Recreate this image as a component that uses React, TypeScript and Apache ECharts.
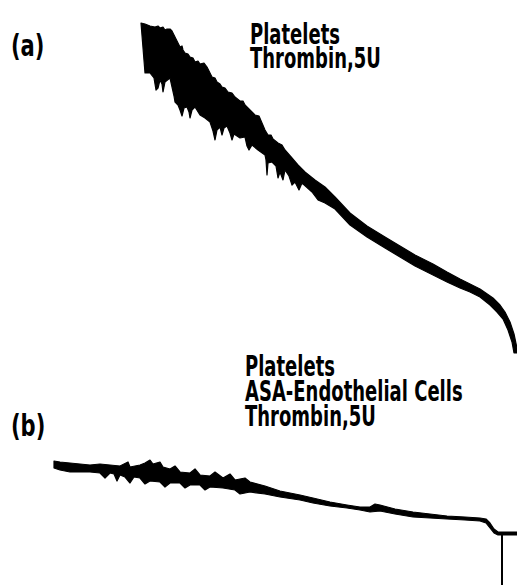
import React, { useEffect, useRef } from "react";
import * as echarts from "echarts";

// Trace (a): Platelets + Thrombin 5U — upper and lower envelope of the recorder trace
const traceAUpper: [number, number][] = [
  [141, 23], [145, 24], [150, 26], [155, 27], [158, 26], [160, 28], [163, 27], [165, 30],
  [167, 29], [170, 29], [172, 31], [173, 33], [175, 37], [178, 43], [180, 47], [182, 46],
  [183, 50], [185, 53], [188, 54], [190, 57], [193, 58], [195, 62], [198, 61], [200, 64],
  [204, 63], [207, 67], [210, 73], [212, 77], [215, 78], [217, 82], [220, 84], [222, 87],
  [225, 88], [228, 92], [232, 93], [235, 97], [240, 101], [243, 101], [245, 105], [250, 110],
  [255, 115], [259, 116], [262, 123], [265, 130], [268, 135], [271, 135], [273, 139],
  [278, 143], [282, 145], [285, 150], [292, 158], [298, 165], [305, 172], [315, 180],
  [325, 187], [335, 197], [350, 213], [367, 226], [385, 237], [400, 246], [415, 255],
  [433, 264], [447, 272], [460, 279], [470, 284], [480, 289], [493, 298], [500, 305],
  [505, 312], [510, 322], [514, 334], [517, 348], [518, 353],
];
const traceALower: [number, number][] = [
  [145, 73], [150, 73], [154, 78], [156, 90], [158, 88], [160, 80], [162, 84], [163, 92],
  [165, 82], [170, 78], [172, 87], [174, 96], [175, 102], [178, 105], [180, 110], [182, 116],
  [184, 108], [187, 107], [189, 112], [190, 118], [192, 110], [195, 107], [200, 115],
  [205, 118], [210, 122], [213, 131], [215, 140], [217, 130], [220, 127], [222, 135],
  [224, 128], [227, 126], [230, 133], [232, 140], [234, 134], [240, 138], [245, 137],
  [247, 146], [249, 150], [252, 145], [258, 150], [265, 155], [266, 160], [267, 175],
  [268, 163], [272, 162], [276, 166], [278, 178], [280, 172], [283, 180], [285, 170],
  [289, 176], [292, 185], [295, 182], [299, 190], [302, 183], [312, 192], [318, 200],
  [325, 203], [335, 209], [350, 225], [367, 237], [385, 248], [400, 257], [415, 266],
  [433, 275], [447, 282], [460, 288], [470, 292], [480, 297], [490, 305], [497, 312],
  [503, 319], [508, 330], [512, 342], [514, 353],
];

// Trace (b): Platelets + ASA-Endothelial Cells + Thrombin 5U
const traceBUpper: [number, number][] = [
  [54, 461], [60, 462], [70, 463], [80, 464], [90, 465], [100, 464], [110, 465], [120, 466],
  [128, 462], [130, 467], [140, 465], [145, 463], [150, 460], [153, 464], [160, 462],
  [163, 467], [170, 469], [175, 466], [180, 472], [190, 473], [195, 469], [200, 475],
  [210, 476], [215, 472], [223, 478], [230, 474], [235, 480], [245, 478], [250, 482],
  [265, 486], [280, 491], [300, 495], [313, 498], [330, 502], [347, 505], [360, 507],
  [370, 507], [375, 504], [380, 505], [395, 509], [413, 512], [430, 514], [447, 516],
  [465, 517], [480, 518], [486, 519], [490, 523], [494, 529], [498, 532], [517, 532],
];
const traceBLower: [number, number][] = [
  [54, 468], [60, 470], [70, 472], [80, 472], [90, 472], [100, 473], [105, 478], [110, 473],
  [114, 474], [117, 481], [120, 475], [125, 477], [130, 483], [134, 477], [140, 478],
  [145, 484], [150, 481], [160, 482], [165, 487], [170, 483], [180, 483], [185, 488],
  [190, 485], [200, 485], [205, 490], [210, 487], [223, 488], [235, 490], [240, 494],
  [250, 492], [265, 494], [280, 497], [300, 500], [313, 503], [330, 506], [347, 508],
  [360, 510], [370, 512], [380, 511], [395, 514], [413, 517], [430, 518], [447, 519],
  [465, 520], [480, 521], [486, 523], [490, 528], [494, 533], [498, 535], [517, 535],
];
const traceBDrop: [number, number][] = [[502, 534], [502, 585]];

const labelA = ["Platelets", "Thrombin,5U"];
const labelB = ["Platelets", "ASA-Endothelial Cells", "Thrombin,5U"];

const FONT = '"DejaVu Sans Condensed", "DejaVu Sans", sans-serif';

function bandSeries(upper: [number, number][], lower: [number, number][]) {
  return {
    type: "custom",
    coordinateSystem: "cartesian2d",
    silent: true,
    clip: false,
    data: [[0, 0]],
    renderItem: (_p: any, api: any) => {
      const pts = upper.map((p) => api.coord(p)).concat(lower.slice().reverse().map((p) => api.coord(p)));
      return {
        type: "polygon",
        shape: { points: pts },
        style: { fill: "#000", stroke: "#000", lineWidth: 1.2, lineJoin: "round" },
      };
    },
  };
}

export default function App() {
  const ref = useRef<HTMLDivElement>(null);
  useEffect(() => {
    document.body.style.margin = "0";
    const chart = echarts.init(ref.current!, null, { renderer: "svg" });
    const text = (t: string, x: number, y: number, size: number, sx: number) => ({
      type: "text",
      x,
      y,
      scaleX: sx,
      style: { text: t, font: `bold ${size}px ${FONT}`, fill: "#000", verticalAlign: "top", align: "left" },
    });
    const graphics: any[] = [];
    graphics.push(text("(a)", 11, 30, 30, 0.78));
    graphics.push(text("(b)", 11, 410, 30, 0.78));
    labelA.forEach((t, i) => graphics.push(text(t, 250, 20 + i * 24, 29, 0.69)));
    labelB.forEach((t, i) => graphics.push(text(t, 245, 352 + i * 25, 29, 0.69)));
    chart.setOption({
      animation: false,
      backgroundColor: "#fff",
      grid: { left: 0, right: 0, top: 0, bottom: 0 },
      xAxis: { type: "value", min: 0, max: 517, show: false },
      yAxis: { type: "value", min: 0, max: 585, inverse: true, show: false },
      series: [
        bandSeries(traceAUpper, traceALower),
        bandSeries(traceBUpper, traceBLower),
        {
          type: "line",
          data: traceBDrop,
          symbol: "none",
          lineStyle: { color: "#000", width: 2 },
          silent: true,
        },
      ],
      graphic: graphics,
    });
    return () => chart.dispose();
  }, []);
  return <div ref={ref} style={{ width: 517, height: 585 }} />;
}
